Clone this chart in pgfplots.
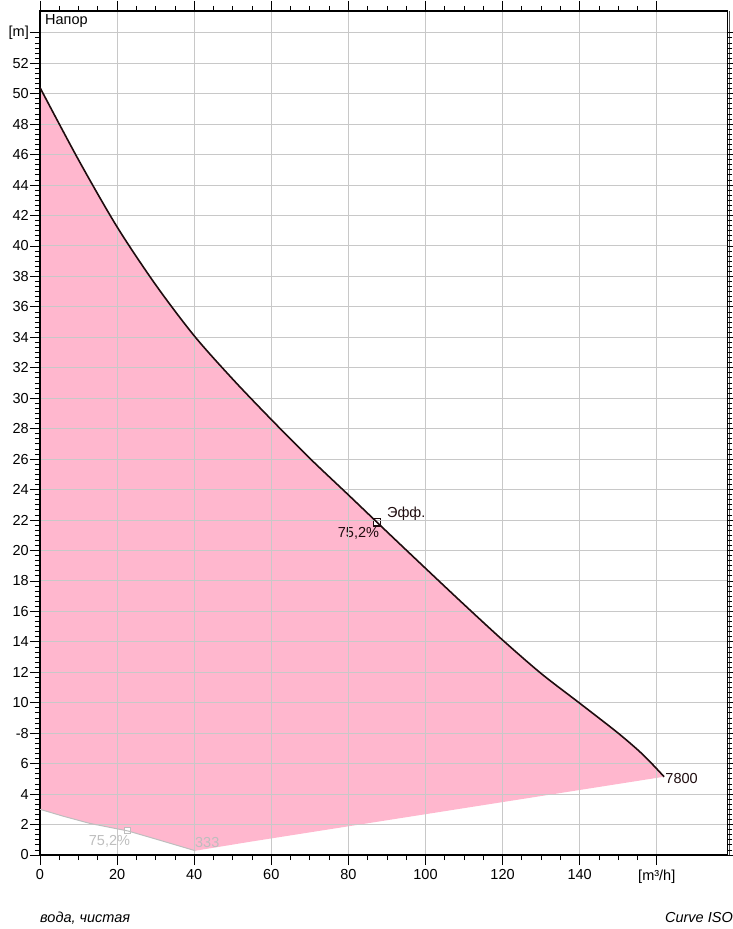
\documentclass[border=0pt]{standalone}
\usepackage{fontspec}
\setmainfont{Liberation Sans}
\usepackage{pgfplots}
\pgfplotsset{compat=1.18}
\definecolor{fillpink}{RGB}{255,183,206}
\definecolor{curvecol}{RGB}{30,12,14}
\definecolor{gridgray}{RGB}{200,200,200}
\definecolor{lgray}{RGB}{190,190,190}
\begin{document}
\begin{tikzpicture}[font=\fontsize{14.5}{17}\selectfont]
\begin{axis}[
  name=ax,
  set layers=axis on top,
  scale only axis, width=687.3pt, height=844pt,
  xmin=0, xmax=178.3, ymin=0, ymax=55.43,
  xtick={0,20,...,160},
  xticklabels={0,20,40,60,80,100,120,140,{[m³/h]}},
  ytick={0,2,...,54},
  yticklabels={0,2,4,6,-8,10,12,14,16,18,20,22,24,26,28,30,32,34,36,38,40,42,44,46,48,50,52,{[m]}},
  minor x tick num=3, minor y tick num=5,
  tick align=outside, major tick length=10pt, minor tick length=5pt,
  tick style={black, line width=0.8pt},
  grid=major, major grid style={gridgray, line width=1pt},
  axis line style={black, line width=1.2pt},
  /pgf/number format/assume math mode=true,
  xticklabel style={yshift=-1pt},
  yticklabel style={inner sep=1pt},
]
% pink operating area
\addplot[fill=fillpink, draw=none, smooth, tension=0.5] coordinates {
 (0,50.4) (10,45.65) (20,41.25) (30,37.45) (40,34.1) (50,31.25) (60,28.6)
 (70,26.05) (80,23.65) (90,21.23) (100,18.83) (110,16.45) (120,14.12)
 (130,11.92) (140,9.97) (150,8.0) (156.5,6.57) (161.9,5.14)
} -- (axis cs:54.5,0.87) -- (axis cs:40.3,0.28) -- (axis cs:30,1.05) -- (axis cs:22.8,1.58) -- (axis cs:13,2.07) -- (axis cs:6,2.55) -- (axis cs:0,3.0) -- cycle;
% pump curve
\addplot[curvecol, line width=1.6pt, smooth, tension=0.5, on layer=axis foreground] coordinates {
 (0,50.4) (10,45.65) (20,41.25) (30,37.45) (40,34.1) (50,31.25) (60,28.6)
 (70,26.05) (80,23.65) (90,21.23) (100,18.83) (110,16.45) (120,14.12)
 (130,11.92) (140,9.97) (150,8.0) (156.5,6.57) (161.9,5.14)
};
% lower gray curve
\addplot[lgray, line width=1pt, on layer=axis foreground] coordinates {
 (0,3.0) (6,2.55) (13,2.07) (22.8,1.58) (30,1.05) (40.3,0.28)
};
% efficiency points
\addplot[only marks, mark=square*, mark size=3.6pt, mark options={fill=white, draw=curvecol, line width=1.6pt}, on layer=axis foreground] coordinates {(87.4,21.85)};
\addplot[only marks, mark=square*, mark size=3pt, mark options={fill=white, draw=lgray, line width=1pt}, on layer=axis foreground] coordinates {(22.8,1.58)};
% labels
\node[anchor=west, inner sep=0pt, text=curvecol] at (axis cs:90.0,22.4) {Эфф.};
\node[anchor=east, inner sep=0pt, text=curvecol] at (axis cs:88.0,21.15) {75,2\%};
\node[anchor=west, inner sep=0pt, text=curvecol] at (axis cs:162.2,5.0) {7800};
\node[anchor=west, inner sep=0pt] at (axis cs:1.3,54.8) {Напор};
\node[anchor=east, inner sep=0pt, text=lgray] at (axis cs:23.4,0.87) {75,2\%};
\node[anchor=west, inner sep=0pt, text=lgray] at (axis cs:40.2,0.8) {333};
\end{axis}
\draw[black!70, line width=1.5pt] ([xshift=2pt]ax.south east) -- ([xshift=2pt]ax.north east);
\node[anchor=west, inner sep=0pt, font=\fontsize{14.5}{17}\selectfont\itshape] at ([yshift=-63pt]ax.south west) {вода, чистая};
\node[anchor=east, inner sep=0pt, font=\fontsize{14.5}{17}\selectfont\itshape] at ([xshift=693pt, yshift=-63pt]ax.south west) {Curve ISO};
\pgfresetboundingbox
\path[use as bounding box] ([xshift=-40pt, yshift=-74pt]ax.south west) rectangle ([xshift=693pt, yshift=855pt]ax.south west);
\end{tikzpicture}
\end{document}
